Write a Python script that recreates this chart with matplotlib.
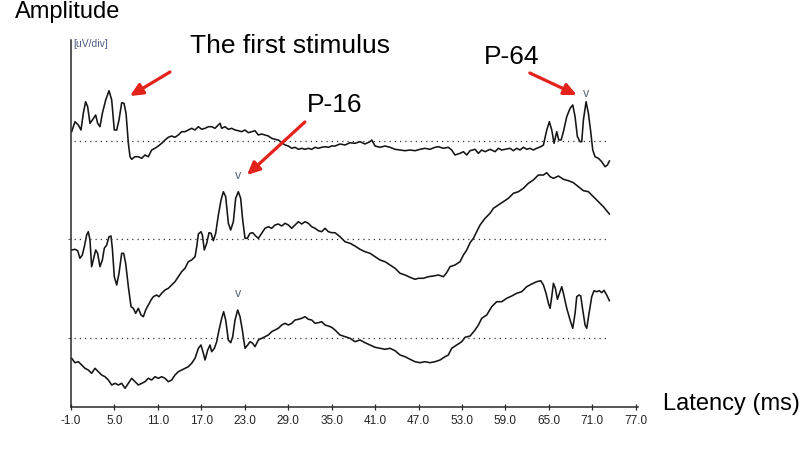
import matplotlib
matplotlib.use("Agg")
import matplotlib.pyplot as plt

# ---------------- data (latency in ms, amplitude in arbitrary units) ----------------
tick_values = [-1.0, 5.0, 11.0, 17.0, 23.0, 29.0, 35.0, 41.0, 47.0, 53.0, 59.0, 65.0, 71.0, 77.0]
tick_labels = ["%.1f" % v for v in tick_values]

lat1 = [-0.91, -0.45, 0.01, 0.38, 0.70, 1.02, 1.30, 1.62, 1.95, 2.41, 2.68, 3.00, 3.33, 3.79, 4.25,
        4.62, 4.98, 5.31, 5.63, 6.00, 6.32, 6.60, 6.92, 7.15, 7.38, 7.84, 8.30, 8.76, 9.22, 9.68,
        10.14, 10.60, 11.06, 11.52, 11.98, 12.44, 12.90, 13.36, 13.82, 14.28, 14.74, 15.20, 15.66,
        16.13, 16.59, 17.05, 17.51, 17.97, 18.43, 18.89, 19.35, 19.58, 19.81, 20.27, 20.73, 21.19,
        21.65, 22.11, 22.57, 23.03, 23.49, 23.95, 24.41, 24.87, 25.33, 25.79, 26.25, 26.71, 27.17,
        27.63, 28.10, 28.56, 29.02, 29.48, 29.94, 30.40, 30.86, 31.32, 31.78, 32.24, 32.70, 33.16,
        33.62, 34.08, 34.54, 35.00, 35.46, 36.15, 36.84, 37.53, 38.22, 38.91, 39.60, 40.29, 40.53,
        40.99, 41.68, 42.37, 43.06, 43.75, 44.44, 45.13, 45.82, 46.51, 47.20, 47.89, 48.58, 49.27,
        49.73, 50.42, 51.11, 51.57, 52.03, 52.73, 53.19, 53.65, 54.11, 54.80, 55.26, 55.72, 56.18,
        56.87, 57.56, 58.02, 58.48, 58.94, 59.63, 60.09, 60.55, 61.01, 61.47, 61.93, 62.39, 62.85,
        63.31, 63.87, 64.24, 64.70, 65.06, 65.39, 65.71, 66.08, 66.35, 66.68, 67.00, 67.46, 67.92,
        68.29, 68.61, 68.93, 69.30, 69.53, 69.76, 70.13, 70.45, 70.77, 71.05, 71.37, 71.83, 72.29,
        72.75, 73.08, 73.35]
amp1 = [9.3, 19.3, 16.0, 11.0, 27.7, 39.3, 34.3, 17.7, 21.0, 26.0, 17.7, 14.3, 27.7, 41.0, 50.3,
        41.0, 11.0, 11.0, 21.0, 38.3, 37.7, 27.7, -2.3, -15.7, -18.3, -15.7, -15.7, -17.3, -14.0, -15.7,
        -9.0, -7.3, -5.0, -2.3, 1.0, 3.7, 5.0, 3.7, 6.0, 9.3, 9.3, 11.0, 12.7,
        11.0, 14.3, 11.7, 12.7, 14.3, 14.3, 12.7, 16.0, 17.7, 12.7, 14.3, 11.7, 12.7,
        11.0, 10.3, 9.3, 11.0, 8.3, 9.3, 10.3, 6.0, 7.0, 6.0, 5.0, 2.7, 1.7,
        1.0, -1.7, -4.0, -5.0, -7.3, -6.3, -8.3, -7.3, -8.3, -7.3, -8.3, -6.3, -7.3,
        -6.3, -5.7, -6.3, -5.0, -5.0, -3.0, -4.0, -1.7, -2.3, -0.7, -3.0, -0.7, 1.0,
        -5.0, -6.3, -5.0, -6.3, -8.3, -9.0, -9.7, -9.0, -9.7, -8.3, -7.3, -8.3, -6.3,
        -5.7, -7.3, -6.3, -9.0, -14.0, -12.3, -10.7, -14.0, -9.7, -8.3, -12.3, -9.0, -10.7,
        -8.3, -10.7, -7.3, -9.0, -8.3, -7.3, -9.7, -7.3, -9.0, -6.3, -8.3, -7.3, -9.0,
        -7.3, -5.7, -4.0, 11.0, 19.3, 11.0, -2.3, 9.3, 1.0, 1.0, 9.3, 24.3, 32.7,
        36.0, 24.3, 4.3, -0.7, -0.7, 21.0, 39.3, 27.7, 9.3, -9.0, -15.7, -17.3, -20.7,
        -25.7, -24.0, -20.0]

lat2 = [-0.91, -0.45, -0.08, 0.24, 0.56, 0.84, 1.16, 1.39, 1.62, 1.85, 2.08, 2.41, 2.68, 3.00, 3.33,
        3.60, 3.93, 4.25, 4.52, 4.71, 4.98, 5.31, 5.63, 6.00, 6.27, 6.55, 6.92, 7.29, 7.61, 7.93,
        8.30, 8.67, 8.99, 9.31, 9.68, 10.05, 10.37, 10.83, 11.15, 11.52, 11.98, 12.44, 12.90, 13.36,
        13.82, 14.28, 14.74, 15.20, 15.66, 16.13, 16.36, 16.59, 16.95, 17.14, 17.41, 17.74, 18.06,
        18.34, 18.66, 18.98, 19.35, 19.72, 20.04, 20.36, 20.73, 21.05, 21.42, 21.74, 22.11, 22.43,
        22.71, 23.03, 23.35, 23.72, 24.09, 24.50, 24.87, 25.33, 25.79, 26.25, 26.71, 27.17, 27.63,
        28.10, 28.56, 29.02, 29.48, 29.94, 30.40, 30.86, 31.32, 31.78, 32.24, 32.70, 33.16, 33.62,
        34.08, 34.54, 35.00, 35.46, 36.15, 36.84, 37.53, 38.22, 38.91, 39.60, 40.29, 40.99, 41.68,
        42.37, 43.06, 43.75, 44.44, 45.13, 45.82, 46.51, 46.97, 47.66, 48.35, 49.04, 49.73, 50.42,
        50.88, 51.34, 52.03, 52.73, 53.19, 53.65, 54.11, 54.57, 55.03, 55.49, 56.18, 56.87, 57.33,
        58.02, 58.71, 59.40, 60.09, 60.78, 61.47, 62.16, 62.85, 63.54, 64.24, 64.70, 65.16, 65.62,
        66.31, 67.00, 67.69, 68.38, 69.07, 69.76, 70.45, 71.14, 71.83, 72.52, 73.35]
amp2 = [-11.0, -10.3, -11.7, -19.3, -16.0, -7.7, 4.0, 7.3, -1.0, -27.7, -21.0, -11.0, -14.3, -27.7, -21.0,
        -9.3, -6.0, 2.3, 3.0, -9.3, -37.7, -46.0, -34.3, -14.3, -14.3, -24.3, -47.7, -67.7, -69.3, -74.3,
        -69.3, -76.0, -77.7, -71.0, -66.0, -61.0, -57.7, -56.0, -57.7, -54.3, -51.0, -49.3, -46.0, -42.7,
        -37.7, -32.7, -29.3, -22.7, -21.0, -17.7, -7.7, 5.0, 7.3, 4.0, -11.0, -4.3, 6.3,
        5.7, -1.7, 5.7, 24.0, 39.0, 47.3, 42.3, 15.7, 9.0, 17.3, 40.7, 47.3, 40.7,
        19.0, 0.7, 0.7, 5.7, 6.3, 3.0, 0.7, 5.7, 10.7, 12.3, 10.7, 14.0, 15.0,
        13.0, 15.7, 14.0, 10.7, 14.0, 17.3, 15.0, 17.3, 15.7, 12.3, 10.7, 8.3, 7.3,
        10.7, 7.3, 6.3, 6.3, 2.3, -2.7, -4.3, -7.0, -10.3, -12.7, -14.3, -17.7, -21.0,
        -22.7, -26.0, -29.3, -34.3, -36.0, -38.3, -40.3, -39.3, -39.3, -37.7, -37.0, -36.0, -37.7,
        -33.7, -27.7, -26.0, -22.7, -16.0, -11.0, -3.7, 0.7, 7.3, 14.0, 20.7, 25.7, 30.7,
        34.0, 37.3, 40.7, 45.7, 47.3, 50.7, 55.7, 59.0, 64.0, 64.0, 66.3, 62.3, 60.7,
        63.0, 59.7, 58.3, 56.3, 52.3, 48.3, 47.3, 42.3, 37.3, 32.3, 25.0]

lat3 = [-0.91, -0.45, 0.01, 0.47, 0.93, 1.39, 1.85, 2.31, 2.77, 3.23, 3.69, 4.16, 4.62, 5.08, 5.54,
        6.00, 6.46, 6.92, 7.38, 7.84, 8.30, 8.76, 9.22, 9.68, 10.14, 10.60, 11.06, 11.52, 11.98,
        12.44, 12.90, 13.36, 13.82, 14.28, 14.74, 15.20, 15.66, 16.13, 16.59, 16.95, 17.28, 17.51,
        17.88, 18.20, 18.43, 18.80, 19.12, 19.44, 19.81, 20.08, 20.36, 20.73, 21.05, 21.33, 21.65,
        22.02, 22.34, 22.66, 23.03, 23.40, 23.72, 24.09, 24.41, 24.87, 25.33, 25.79, 26.25, 26.71,
        27.17, 27.63, 28.10, 28.56, 29.02, 29.48, 29.94, 30.40, 30.86, 31.32, 31.78, 32.24, 32.70,
        33.16, 33.62, 34.08, 34.54, 35.00, 35.46, 36.15, 36.84, 37.53, 38.22, 38.91, 39.60, 40.29,
        40.99, 41.68, 42.37, 43.06, 43.75, 44.44, 45.13, 45.82, 46.51, 47.20, 47.89, 48.58, 49.27,
        49.96, 50.65, 51.11, 51.57, 52.27, 52.96, 53.42, 54.11, 54.80, 55.26, 55.72, 56.41, 57.10,
        57.79, 58.48, 59.17, 59.86, 60.55, 61.24, 61.93, 62.62, 63.31, 63.87, 64.24, 64.60, 64.93,
        65.16, 65.39, 65.62, 65.89, 66.17, 66.45, 66.77, 67.00, 67.46, 67.92, 68.29, 68.61, 68.84,
        69.16, 69.39, 69.67, 69.99, 70.22, 70.54, 70.91, 71.23, 71.60, 71.97, 72.29, 72.61, 72.98,
        73.35]
amp3 = [-20.3, -24.7, -23.7, -27.0, -30.3, -32.0, -35.3, -30.3, -33.7, -37.0, -38.7, -42.0, -47.0, -45.3, -47.0,
        -45.3, -50.3, -45.3, -40.3, -43.7, -47.0, -45.3, -43.7, -40.3, -42.0, -38.7, -40.3, -38.7, -40.3,
        -43.7, -42.0, -37.0, -33.7, -32.0, -30.3, -28.7, -25.3, -20.3, -10.3, -7.0, -15.3, -22.0,
        -12.0, -7.0, -13.7, -10.3, -3.7, 8.0, 19.7, 26.3, 18.0, -2.0, -4.7, 1.3, 18.0,
        28.0, 21.3, 8.0, -10.3, -7.0, -3.7, -5.3, -8.7, -2.0, -0.3, 1.3, 3.0, 6.3,
        8.0, 9.7, 13.0, 14.7, 13.0, 14.7, 18.0, 18.7, 19.7, 21.3, 18.7, 18.0, 14.7,
        15.3, 16.3, 13.0, 12.0, 10.7, 8.0, 3.0, 1.3, -0.3, -3.7, -2.0, -4.7, -7.0,
        -9.3, -10.3, -11.3, -10.3, -12.7, -17.0, -18.7, -21.3, -23.7, -24.7, -23.7, -24.7, -23.7,
        -22.0, -18.7, -17.0, -10.3, -7.0, -3.7, 0.7, 2.0, 8.0, 13.0, 19.7, 23.0, 31.3,
        36.3, 36.3, 39.7, 42.0, 44.7, 46.3, 51.3, 54.0, 56.3, 57.3, 53.0, 44.7, 34.7,
        29.7, 41.3, 54.7, 49.7, 38.7, 44.7, 51.3, 44.7, 29.7, 18.0, 9.7, 24.7, 41.3,
        43.0, 42.0, 28.0, 13.0, 9.7, 24.7, 41.3, 47.3, 46.3, 47.3, 45.3, 47.7, 43.0,
        37.3]

latencies = [lat1, lat2, lat3]
amplitudes = [amp1, amp2, amp3]
peak_latency = [70.13, 22.11, 22.02]     # "V" marks
peak_amp = [39.3, 47.3, 28.0]

# ---------------- layout / style ----------------
baselines = [266, 168, 69]
mark_gap = [8, 16, 16]
ARROW_RED = "#e3221b"
TEXT_FONT = ["Liberation Sans", "DejaVu Sans"]

W, H = 800, 465
fig = plt.figure(figsize=(W / 100, H / 100), dpi=100)
ax = fig.add_axes([71 / W, 58 / H, 567 / W, 367 / H])
ax.set_xlim(-1.0, 77.3)
ax.set_ylim(0, 367)

for lat, amp, base in zip(latencies, amplitudes, baselines):
    ax.plot(lat, [a + base for a in amp], color="#151515", lw=1.15, solid_joinstyle="round")
    ax.plot([-0.6, 73.0], [base, base], color="#333333", lw=0.9, linestyle=(0, (1, 3.2)))

for pl, pa, base, g in zip(peak_latency, peak_amp, baselines, mark_gap):
    ax.text(pl, base + pa + g, "v", ha="center", va="center", fontsize=9,
            color="#5a6577", family=TEXT_FONT)

for s in ("top", "right"):
    ax.spines[s].set_visible(False)
for s in ("left", "bottom"):
    ax.spines[s].set_color("#2a2a2a")
    ax.spines[s].set_linewidth(1.1)

ax.set_xticks(tick_values)
ax.set_xticklabels(tick_labels, family=TEXT_FONT, fontsize=8.5, color="#222222")
ax.tick_params(axis="x", direction="inout", length=5, width=0.9, color="#2a2a2a", pad=3)
ax.set_yticks(baselines[1:])
ax.set_yticklabels([])
ax.tick_params(axis="y", direction="out", length=2, width=0.8, color="#666666")

ax.text(-0.75, 363, "[uV/div]", fontsize=7.5, color="#4a5c86", family=TEXT_FONT,
        ha="left", va="center")

# annotations
arrow_style = dict(arrowstyle="-|>,head_length=0.75,head_width=0.35",
                   color=ARROW_RED, lw=2.3, shrinkA=0, shrinkB=0)
ax.text(15.4, 361, "The first stimulus", fontsize=19, family=TEXT_FONT, ha="left",
        va="center", color="black", clip_on=False)
ax.annotate("", xy=(7.14, 311), xytext=(12.67, 335), arrowprops=arrow_style)
ax.text(35.4, 302, "P-16", fontsize=19, family=TEXT_FONT, ha="center", va="center", color="black")
ax.annotate("", xy=(23.3, 232), xytext=(31.3, 285), arrowprops=arrow_style)
ax.text(59.9, 350, "P-64", fontsize=19, family=TEXT_FONT, ha="center", va="center", color="black")
ax.annotate("", xy=(68.85, 312), xytext=(62.36, 334), arrowprops=arrow_style)

fig.text(15 / W, 1 - 12 / H, "Amplitude", fontsize=17, family=TEXT_FONT,
         ha="left", va="center", color="black")
fig.text(663 / W, 1 - 404 / H, "Latency (ms)", fontsize=17, family=TEXT_FONT,
         ha="left", va="center", color="black")

fig.savefig("out.png", dpi=100, facecolor="white")
